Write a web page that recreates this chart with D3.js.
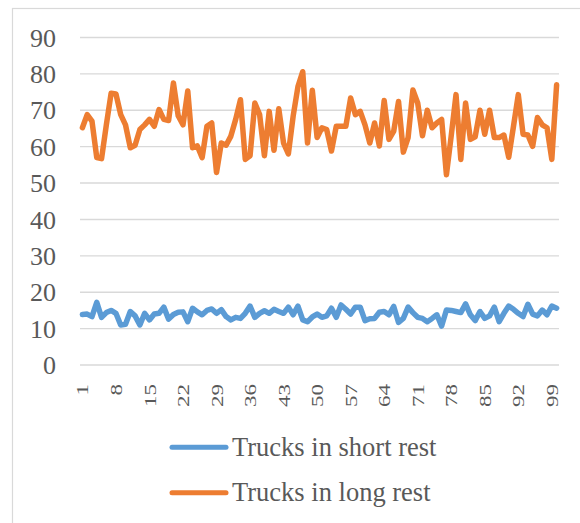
<!DOCTYPE html>
<html>
<head>
<meta charset="utf-8">
<script src="https://cdn.jsdelivr.net/npm/d3@7"></script>
<style>
  body { margin: 0; background: #fff; }
  svg { display: block; }
  svg text { font-family: "Liberation Serif", "DejaVu Serif", serif; }
</style>
</head>
<body>
<div id="chart"></div>
<script>
// ── Data ──────────────────────────────────────────────────────────────────────

const seriesNames = ["Trucks in short rest", "Trucks in long rest"];

const shortRest = [
  13.9, 14, 13.3, 17.2, 13.1, 14.4, 15, 14.2, 11, 11.2,
  14.7, 13.5, 11, 14.2, 12.4, 14, 14.2, 15.9, 12.6, 13.9,
  14.5, 14.6, 11.9, 15.6, 14.6, 13.8, 15, 15.4, 14.2, 15.2,
  13.3, 12.4, 13.1, 12.8, 14.2, 16.2, 13.1, 14.2, 14.9, 14.2,
  15.3, 14.7, 14.2, 15.9, 13.8, 16.2, 12.4, 11.9, 13.2, 14,
  13.1, 13.5, 15.6, 13.1, 16.5, 15.3, 14, 15.9, 15.9, 12.2,
  12.7, 12.8, 14.5, 14.7, 13.8, 16.1, 11.7, 12.8, 15.9, 14.4,
  13.1, 12.8, 11.9, 12.8, 13.8, 10.7, 15.1, 15, 14.7, 14.4,
  16.8, 13.8, 12.2, 14.7, 12.8, 13.5, 15.9, 11.9, 14.2, 16.2,
  15.3, 14.2, 13.3, 16.7, 14, 13.5, 15.1, 13.8, 16.2, 15.6
];

const longRest = [
  65.2, 68.8, 67, 57, 56.7, 66, 74.7, 74.5, 68.8, 66,
  59.7, 60.4, 64.7, 66, 67.5, 65.6, 70.2, 67.5, 67.2, 77.5,
  68.5, 66, 75.3, 59.7, 60.2, 57, 65.6, 66.5, 52.9, 61,
  60.4, 62.9, 67.5, 72.9, 56.5, 57.5, 72, 68.8, 57.5, 69.7,
  59, 70.4, 61, 58, 68.4, 76.5, 80.6, 61, 75.5, 62.5,
  65.2, 64.7, 58.8, 65.6, 65.6, 65.6, 73.4, 68.8, 69.7, 66,
  61, 66.5, 60.2, 72.7, 62, 64.3, 72.4, 58.5, 62.5, 75.6,
  72, 63, 70, 65.2, 66.5, 67.5, 52.3, 63, 74.3, 56.5,
  72, 62, 62.7, 70, 63.4, 70, 62.5, 62.5, 63.2, 57.1,
  65.6, 74.3, 63.4, 63.2, 60.1, 68, 66, 65.2, 56.5, 77
];

const categories = d3.range(1, 101);
const xTickLabels = d3.range(1, 101, 7);
const yTicks = d3.range(0, 91, 10);

const colors = ["#5B9BD5", "#ED7D31"];
const TEXT_COLOR = "#595959";

// ── Layout ────────────────────────────────────────────────────────────────────

const W = 580, H = 523;
const plot = { left: 80, right: 559, top: 37.5, bottom: 365 };

const svg = d3.select("#chart").append("svg")
  .attr("width", W).attr("height", H);

// chart area outline (right/bottom edges fall off the picture)
svg.append("rect")
  .attr("x", 12.5).attr("y", 8.5)
  .attr("width", 580).attr("height", 530)
  .attr("fill", "none")
  .attr("stroke", "#d9d9d9").attr("stroke-width", 1.2);

const x = d3.scaleBand().domain(categories).range([plot.left, plot.right]);
const y = d3.scaleLinear().domain([0, 90]).range([plot.bottom, plot.top]);
const cx = d => x(d) + x.bandwidth() / 2;

// ── Grid + axes ───────────────────────────────────────────────────────────────

svg.append("g").selectAll("line").data(yTicks).enter().append("line")
  .attr("x1", plot.left).attr("x2", plot.right)
  .attr("y1", d => y(d)).attr("y2", d => y(d))
  .attr("stroke", "#d9d9d9").attr("stroke-width", 1.4);

svg.append("g").selectAll("text").data(yTicks).enter().append("text")
  .attr("x", 56).attr("y", d => y(d))
  .attr("dy", "0.35em")
  .attr("text-anchor", "end")
  .attr("fill", TEXT_COLOR)
  .style("font-size", "26px")
  .text(d => d);

svg.append("g").selectAll("text").data(xTickLabels).enter().append("text")
  .attr("transform", d => `translate(${cx(d)},384) rotate(-90) scale(1,0.75)`)
  .attr("dy", "0.35em")
  .attr("text-anchor", "end")
  .attr("fill", TEXT_COLOR)
  .style("font-size", "23px")
  .text(d => d);

// ── Lines ─────────────────────────────────────────────────────────────────────

const line = d3.line()
  .x((d, i) => cx(categories[i]))
  .y(d => y(d));

[shortRest, longRest].forEach((values, k) => {
  svg.append("path")
    .datum(values)
    .attr("d", line)
    .attr("fill", "none")
    .attr("stroke", colors[k])
    .attr("stroke-width", 5.5)
    .attr("stroke-linejoin", "round")
    .attr("stroke-linecap", "round");
});

// ── Legend ────────────────────────────────────────────────────────────────────

const legendRows = [447.3, 492.7];

const legend = svg.append("g").selectAll("g").data(seriesNames).enter().append("g")
  .attr("transform", (d, i) => `translate(0,${legendRows[i]})`);

legend.append("line")
  .attr("x1", 172).attr("x2", 226)
  .attr("stroke", (d, i) => colors[i])
  .attr("stroke-width", 5)
  .attr("stroke-linecap", "round");

legend.append("text")
  .attr("x", 232).attr("y", 8.7)
  .attr("fill", TEXT_COLOR)
  .style("font-size", "26.5px")
  .text(d => d);
</script>
</body>
</html>
